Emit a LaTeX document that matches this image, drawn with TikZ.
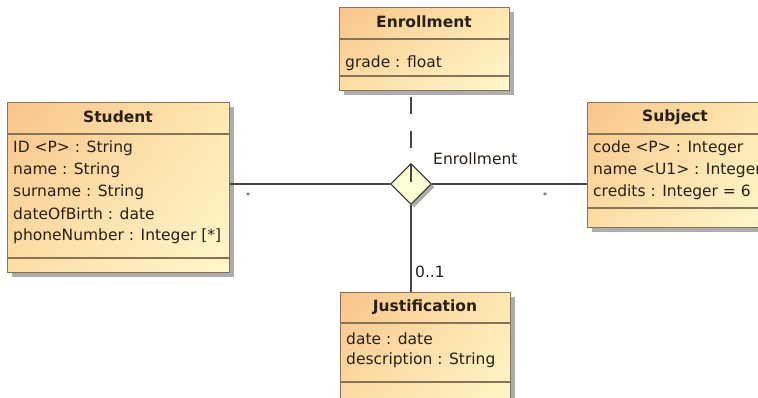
\documentclass[tikz,border=0pt]{standalone}
\usepackage{fontspec}
\setmainfont{DejaVu Sans}
\usetikzlibrary{shapes.geometric,shadows,shadings,calc}
\definecolor{txt}{RGB}{40,32,24}
\definecolor{bord}{RGB}{135,115,85}
\definecolor{cUL}{RGB}{248,196,138}
\definecolor{cUR}{RGB}{254,232,176}
\definecolor{cLL}{RGB}{252,222,165}
\definecolor{cLR}{RGB}{255,247,204}
\definecolor{diafill}{RGB}{255,255,214}
\definecolor{lin}{RGB}{70,70,70}
\tikzset{
  umlbox/.style={draw=bord, line width=1.1pt, rectangle, inner sep=0pt, anchor=north west,
    upper left=cUL, upper right=cUR, lower left=cLL, lower right=cLR,
    drop shadow={shadow xshift=4pt, shadow yshift=-4pt, fill=black!40, opacity=0.8}},
  sep/.style={draw=bord, line width=1.1pt},
  ttl/.style={font=\fontsize{15.5}{18}\bfseries, text=txt, inner sep=0pt},
  attr/.style={font=\fontsize{15.5}{18}\selectfont, text=txt, inner sep=0pt, anchor=west},
  conn/.style={draw=lin, line width=1.1pt},
  lbl/.style={font=\fontsize{15.5}{18}\selectfont, text=txt, inner sep=0pt},
  star/.style={font=\fontsize{8}{9}\selectfont, text=txt, inner sep=0pt},
  relnode/.style={diamond, draw=lin, line width=1.2pt, fill=diafill, minimum width=41pt, minimum height=41pt, inner sep=0pt, aspect=1,
    drop shadow={shadow xshift=3pt, shadow yshift=-3pt, fill=black!40, opacity=0.8}}
}
\begin{document}
\begin{tikzpicture}[x=1pt,y=-1pt]
\useasboundingbox (0,0) rectangle (758,398);
\clip (0,0) rectangle (758,398);
\fill[white] (0,0) rectangle (758,398);

% Student
\node[umlbox, minimum width=222pt, minimum height=170pt] (student) at (7,102) {};
\draw[sep] ([yshift=-32pt]student.north west) -- ([yshift=-32pt]student.north east);
\draw[sep] ([yshift=-156pt]student.north west) -- ([yshift=-156pt]student.north east);
\node[ttl] (studentT) at (118,117) {Student};
\node[attr] (s1) at (13,148) {ID <P> : String};
\node[attr] (s2) at (13,170) {name : String};
\node[attr] (s3) at (13,192) {surname : String};
\node[attr] (s4) at (13,214) {dateOfBirth : date};
\node[attr] (s5) at (13,236) {phoneNumber : Integer [*]};

% Enrollment class
\node[umlbox, minimum width=170pt, minimum height=83pt] (enr) at (339,7) {};
\draw[sep] ([yshift=-32pt]enr.north west) -- ([yshift=-32pt]enr.north east);
\draw[sep] ([yshift=-69pt]enr.north west) -- ([yshift=-69pt]enr.north east);
\node[ttl] (enrT) at (424,22) {Enrollment};
\node[attr] (e1) at (345,63) {grade : float};

% Subject
\node[umlbox, minimum width=176pt, minimum height=125pt] (subject) at (587,102) {};
\draw[sep] ([yshift=-32pt]subject.north west) -- ([yshift=-32pt]subject.north east);
\draw[sep] ([yshift=-106pt]subject.north west) -- ([yshift=-106pt]subject.north east);
\node[ttl] (subjectT) at (675,117) {Subject};
\node[attr] (b1) at (593,148) {code <P> : Integer};
\node[attr] (b2) at (593,170) {name <U1> : Integer};
\node[attr] (b3) at (593,192) {credits : Integer = 6};

% Justification
\node[umlbox, minimum width=170pt, minimum height=120pt] (just) at (340,292) {};
\draw[sep] ([yshift=-31pt]just.north west) -- ([yshift=-31pt]just.north east);
\draw[sep] ([yshift=-90pt]just.north west) -- ([yshift=-90pt]just.north east);
\node[ttl] (justT) at (425,307) {Justification};
\node[attr] (j1) at (346,339) {date : date};
\node[attr] (j2) at (346,360) {description : String};

% Association
\node[relnode] (dia) at (411,184) {};
\draw[conn] (dia.west) -- (dia.west -| student.east);
\draw[conn] (dia.east) -- (dia.east -| subject.west);
\draw[conn] (dia.south) -- (dia.south |- just.north);
\coordinate (dtop) at ($(enr.south -| dia.center)+(0,-6pt)$);
\draw[conn, dash pattern=on 17pt off 17pt] (dtop) -- (dia.center);

\node[lbl, anchor=west] (assocL) at (433,159) {Enrollment};
\node[star] (m1) at (248,196) {*};
\node[star] (m2) at (545,196) {*};
\node[lbl, anchor=west] (m3) at (415,272) {0..1};
\end{tikzpicture}
\end{document}
